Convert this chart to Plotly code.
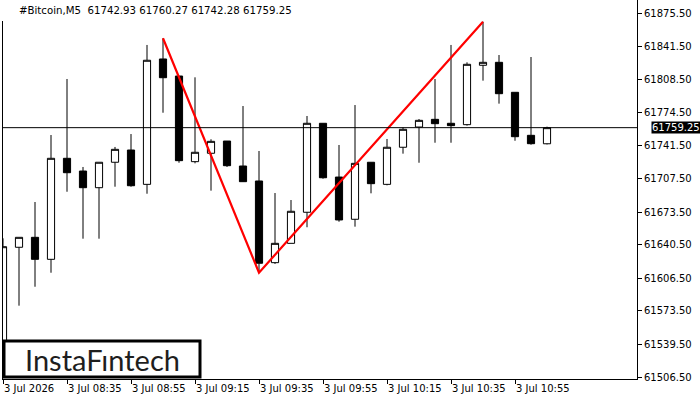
import plotly.graph_objects as go

times = ["08:15","08:20","08:25","08:30","08:35","08:40","08:45","08:50","08:55","09:00",
         "09:05","09:10","09:15","09:20","09:25","09:30","09:35","09:40","09:45","09:50",
         "09:55","10:00","10:05","10:10","10:15","10:20","10:25","10:30","10:35","10:40",
         "10:45","10:50","10:55","11:00","11:05"]
opens = [61511.6,61638.0,61648.1,61625.8,61728.2,61715.3,61698.4,61724.2,61736.6,61701.8,
         61828.9,61811.6,61724.8,61733.3,61745.7,61720.4,61705.2,61622.4,61642.0,61673.5,
         61763.7,61709.2,61666.4,61724.2,61701.8,61739.4,61759.9,61767.7,61763.7,61762.3,
         61822.5,61825.5,61795.1,61751.5,61742.93]
highs = [61647.1,61648.1,61683.9,61751.8,61808.6,61719.4,61724.2,61739.7,61752.8,61843.1,
         61849.9,61811.6,61810.3,61747.5,61745.7,61781.2,61735.6,61693.0,61685.9,61771.1,
         61763.7,61741.7,61782.2,61724.2,61747.8,61759.6,61768.0,61808.6,61843.1,61825.5,
         61866.7,61832.9,61795.1,61830.9,61760.27]
lows = [61507.5,61578.8,61598.0,61612.2,61694.3,61646.7,61646.7,61699.4,61699.4,61692.3,
        61774.4,61723.7,61723.1,61695.4,61719.4,61704.2,61612.2,61621.1,61642.0,61658.3,
        61707.5,61663.9,61658.9,61692.7,61700.8,61732.9,61723.7,61744.0,61744.0,61761.3,
        61806.9,61783.6,61746.0,61742.0,61742.28]
closes = [61638.6,61648.1,61625.8,61728.2,61713.6,61698.4,61724.2,61737.3,61700.4,61827.6,
          61809.9,61725.8,61734.3,61745.4,61720.7,61704.5,61621.8,61642.0,61674.5,61763.7,
          61708.5,61665.7,61723.1,61702.5,61739.4,61757.6,61766.7,61763.3,61761.3,61823.5,
          61825.5,61793.7,61750.1,61743.0,61759.25]

# pattern points (bar index, price)
pattern_idx = [10, 16, 30]
pattern_price = [61849.9, 61612.2, 61866.7]

y_ticks = [61875.5, 61841.5, 61808.5, 61774.5, 61741.5, 61707.5, 61673.5,
           61640.5, 61606.5, 61573.5, 61539.5, 61506.5]
x_tick_idx = [0, 4, 8, 12, 16, 20, 24, 28, 32]
x_tick_text = ["3 Jul 2026", "3 Jul 08:35", "3 Jul 08:55", "3 Jul 09:15", "3 Jul 09:35",
               "3 Jul 09:55", "3 Jul 10:15", "3 Jul 10:35", "3 Jul 10:55"]
current_price = 61759.25
title_text = "#Bitcoin,M5  61742.93 61760.27 61742.28 61759.25"

idx = list(range(len(times)))

fig = go.Figure()
fig.add_trace(go.Candlestick(
    x=idx, open=opens, high=highs, low=lows, close=closes,
    increasing=dict(line=dict(color="black", width=1), fillcolor="white"),
    decreasing=dict(line=dict(color="black", width=1), fillcolor="black"),
    whiskerwidth=0, showlegend=False, hoverinfo="skip",
))
fig.add_trace(go.Scatter(
    x=pattern_idx, y=pattern_price, mode="lines",
    line=dict(color="#ff0000", width=2.2), showlegend=False, hoverinfo="skip",
))

W, H = 700, 400
ml, mr, mt, mb = 2, 63, 0, 21
pw, ph = W - ml - mr, H - mt - mb
px_per_bar = 16.0
x0 = -1.0 / px_per_bar
x1 = x0 + pw / px_per_bar
price_per_px = 369.0 / 364.0
ytop = 61875.5 + 13 * price_per_px
ybot = ytop - ph * price_per_px

def pxx(p):
    return (p - ml) / pw

def pxy(p):
    return (H - mb - p) / ph

font = "DejaVu Sans"

fig.update_layout(
    width=W, height=H,
    margin=dict(l=ml, r=mr, t=mt, b=mb, pad=0),
    paper_bgcolor="white", plot_bgcolor="white",
    boxgap=0.36,
    xaxis=dict(
        range=[x0, x1], rangeslider=dict(visible=False),
        tickmode="array", tickvals=x_tick_idx, ticktext=x_tick_text,
        ticks="outside", ticklen=4, tickcolor="black", tickwidth=1,
        ticklabelposition="outside right",
        tickfont=dict(family=font, size=10, color="black"),
        showgrid=False, zeroline=False,
        showline=True, linecolor="black", linewidth=1,
    ),
    yaxis=dict(
        range=[ybot, ytop], side="right",
        tickmode="array", tickvals=y_ticks,
        ticktext=[f"{v:.2f}" for v in y_ticks],
        ticks="outside", ticklen=4, tickcolor="black", tickwidth=1,
        tickfont=dict(family=font, size=10, color="black"),
        showgrid=False, zeroline=False,
        showline=True, linecolor="black", linewidth=1,
    ),
    shapes=[
        # current price line
        dict(type="line", xref="paper", yref="y", x0=0, x1=1,
             y0=current_price, y1=current_price,
             line=dict(color="black", width=1)),
        # left border
        dict(type="line", xref="paper", yref="paper", x0=pxx(2.5), x1=pxx(2.5),
             y0=0, y1=pxy(21), line=dict(color="black", width=1)),
        # logo box
        dict(type="rect", xref="paper", yref="paper",
             x0=pxx(4), x1=pxx(200), y0=pxy(377), y1=pxy(341),
             fillcolor="white", line=dict(color="black", width=3), layer="above"),
    ],
    annotations=[
        dict(text=title_text, xref="paper", yref="paper",
             x=pxx(17), y=pxy(11), xanchor="left", yanchor="middle",
             showarrow=False, font=dict(family=font, size=10.2, color="black")),
        dict(text="61759.25", xref="paper", yref="y",
             x=pxx(651), y=current_price, xanchor="left", yanchor="middle",
             showarrow=False, bgcolor="black", borderpad=0,
             font=dict(family=font, size=10, color="white")),
        dict(text="InstaF\u0131ntech", xref="paper", yref="paper",
             x=pxx(102), y=pxy(359), xanchor="center", yanchor="middle",
             showarrow=False, font=dict(family="Lato", size=29, color="#1e1e1e")),
    ],
)

fig.write_html("out.html")
